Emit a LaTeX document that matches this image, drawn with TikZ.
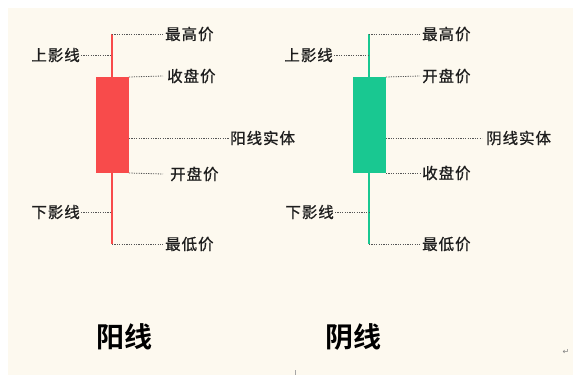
\documentclass[tikz,border=0pt]{standalone}
\usepackage{fontspec}
\newfontfamily\cjk{Noto Sans CJK SC}[BoldFont={Noto Sans CJK SC Bold}]
\newfontfamily\cjklbl{Noto Sans CJK SC}[FakeBold=0.8, LetterSpace=6]
\newfontfamily\symfont{DejaVu Sans}
\definecolor{bgcream}{HTML}{FDF9EF}
\definecolor{upred}{HTML}{F84B4B}
\definecolor{downgreen}{HTML}{19C891}
\definecolor{labelink}{HTML}{1E1E1E}
\definecolor{dotgray}{HTML}{555555}
\tikzset{
  lbl/.style={inner sep=0pt, font=\cjklbl\fontsize{15.5}{16}\selectfont, text=labelink},
  title/.style={inner sep=0pt, font=\cjk\bfseries\fontsize{28}{30}\selectfont, text=black},
  dots/.style={draw=dotgray, line width=0.8pt, dash pattern=on 1.2pt off 1.2pt},
  wick/.style={line width=2.6pt},
}
\begin{document}
\begin{tikzpicture}[x=1pt,y=-1pt]
\useasboundingbox (0,0) rectangle (573,375);
\fill[white] (0,0) rectangle (573,375);
\fill[bgcream] (8,8) rectangle (573,375);

% ---------- red (yang) candle ----------
\coordinate (rtop) at (112,34);
\coordinate (rbot) at (112,244);
\coordinate (rup) at (112,55);
\coordinate (rlow) at (112,212);
\draw[wick, upred] (rtop) -- (rbot);
\node[fill=upred, inner sep=0pt, minimum width=33pt, minimum height=96pt, anchor=north west] (rbody) at (96,77) {};
\coordinate (rclose) at (129,77);
\coordinate (rmid) at (129,138);
\coordinate (ropen) at (129,173);

\node[lbl, anchor=west] (rhigh) at (165,34) {最高价};
\node[lbl, anchor=east] (rshu) at (80,55) {上影线};
\node[lbl, anchor=west] (rcl) at (167,76) {收盘价};
\node[lbl, anchor=west] (rbodyl) at (230,138) {阳线实体};
\node[lbl, anchor=west] (rop) at (170,174) {开盘价};
\node[lbl, anchor=east] (rshd) at (80,212) {下影线};
\node[lbl, anchor=west] (rlowl) at (165,244) {最低价};

\draw[dots] (rtop) -- ([xshift=-2pt]rhigh.west);
\draw[dots] ([xshift=1pt]rshu.east) -- (rup);
\draw[dots] (rclose) -- ([xshift=-4pt]rcl.west);
\draw[dots] (rmid) -- ([xshift=-1pt]rbodyl.west);
\draw[dots] (ropen) -- ([xshift=-7pt]rop.west);
\draw[dots] ([xshift=1pt]rshd.east) -- (rlow);
\draw[dots] (rbot) -- ([xshift=-2pt]rlowl.west);

% ---------- green (yin) candle ----------
\coordinate (gtop) at (369,34);
\coordinate (gbot) at (369,244);
\coordinate (gup) at (369,55);
\coordinate (glow) at (369,212);
\draw[wick, downgreen] (gtop) -- (gbot);
\node[fill=downgreen, inner sep=0pt, minimum width=33pt, minimum height=96pt, anchor=north west] (gbody) at (353,77) {};
\coordinate (gopen) at (386,77);
\coordinate (gmid) at (386,138);
\coordinate (gclose) at (386,173);

\node[lbl, anchor=west] (ghigh) at (422,34) {最高价};
\node[lbl, anchor=east] (gshu) at (333,55) {上影线};
\node[lbl, anchor=west] (gop) at (422,76) {开盘价};
\node[lbl, anchor=west] (gbodyl) at (486,138) {阴线实体};
\node[lbl, anchor=west] (gcl) at (422,173) {收盘价};
\node[lbl, anchor=east] (gshd) at (334,212) {下影线};
\node[lbl, anchor=west] (glowl) at (422,244) {最低价};

\draw[dots] (gtop) -- ([xshift=-2pt]ghigh.west);
\draw[dots] ([xshift=1pt]gshu.east) -- (gup);
\draw[dots] (gopen) -- ([xshift=-2pt]gop.west);
\draw[dots] (gmid) -- ([xshift=-4pt]gbodyl.west);
\draw[dots] (gclose) -- ([xshift=-2pt]gcl.west);
\draw[dots] ([xshift=1pt]gshd.east) -- (glow);
\draw[dots] (gbot) -- ([xshift=-2pt]glowl.west);

% ---------- titles ----------
\node[title] (ryang) at (124,337) {阳线};
\node[title] (gyin) at (353,337) {阴线};

% ---------- stray marks ----------
\node[inner sep=0pt, font=\symfont\fontsize{8}{8}\selectfont, text=gray] (retmark) at (566,352) {↵};
\fill[gray!70] (294.5,370) rectangle (296,375);
\end{tikzpicture}
\end{document}
